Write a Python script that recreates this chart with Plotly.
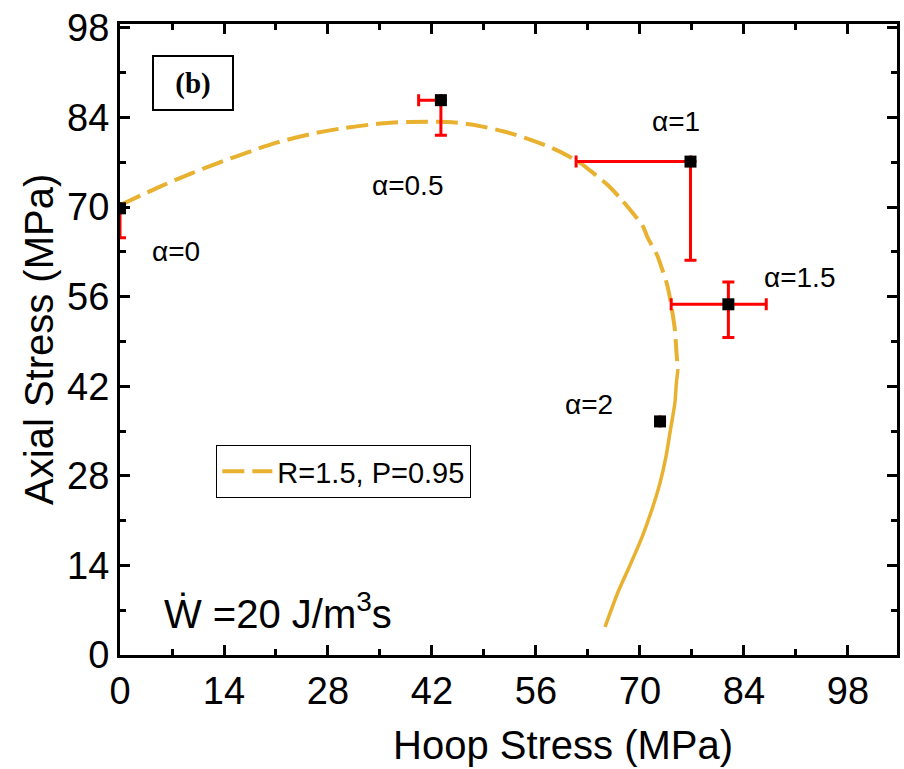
import plotly.graph_objects as go

# ---- data ----
curve_dash_x = [0, 5.4, 9.7, 13.0, 17.8, 21.2, 26.5, 29.9, 35.5, 38.9, 44.0, 47.3, 51.7, 55.0,
                58.2, 61.7, 63.4, 65.7, 67.4, 69.0, 70.4, 71.0, 72.3, 72.8, 73.6, 74.1, 74.7, 74.9, 75.1]
curve_dash_y = [70.3, 73.2, 75.3, 76.8, 78.8, 80.1, 81.6, 82.3, 83.1, 83.3, 83.3, 82.9, 81.8, 80.6,
                79.2, 77.1, 75.6, 73.4, 71.3, 69.1, 67.0, 65.3, 62.5, 60.9, 58.1, 55.4, 50.8, 47.5, 44.5]
curve_solid_x = [75.1, 74.9, 74.7, 74.1, 73.5, 72.7, 71.6, 70.3, 68.8, 67.1, 65.3]
curve_solid_y = [44.5, 42.5, 39.4, 35.2, 31.0, 26.9, 22.7, 18.5, 14.4, 10.0, 4.4]

hoop = [0, 43.2, 76.8, 81.9, 72.7]
axial = [69.8, 86.7, 77.1, 54.8, 36.5]
x_err_minus = [0, 3.0, 15.4, 7.7, 0]
x_err_plus = [0, 0, 0, 5.1, 0]
y_err_minus = [4.6, 5.5, 15.4, 5.2, 0]
y_err_plus = [0, 0, 0, 3.5, 0]

alpha_labels = ["α=0", "α=0.5", "α=1", "α=1.5", "α=2"]
alpha_lx = [7.6, 38.7, 74.8, 91.5, 63.1]
alpha_ly = [63.0, 73.3, 83.4, 59.0, 39.2]

tick_vals = [0, 14, 28, 42, 56, 70, 84, 98]

GOLD = "#E8B130"
SANS = "Liberation Sans, Arial, sans-serif"

fig = go.Figure()

# thin red line under solid part
fig.add_trace(go.Scatter(x=curve_solid_x, y=curve_solid_y, mode="lines",
                         line=dict(color="red", width=1.2, shape="spline", smoothing=0.8),
                         showlegend=False, hoverinfo="skip"))
fig.add_trace(go.Scatter(x=curve_solid_x, y=curve_solid_y, mode="lines",
                         line=dict(color=GOLD, width=3.5, shape="spline", smoothing=0.8),
                         showlegend=False, hoverinfo="skip"))
fig.add_trace(go.Scatter(x=curve_dash_x, y=curve_dash_y, mode="lines", name="R=1.5, P=0.95",
                         line=dict(color=GOLD, width=4, dash="22px,8px", shape="spline", smoothing=0.8)))

fig.add_trace(go.Scatter(
    x=hoop, y=axial, mode="markers", showlegend=False,
    marker=dict(symbol="square", size=12, color="black"),
    error_x=dict(type="data", symmetric=False, array=x_err_plus, arrayminus=x_err_minus,
                 color="red", thickness=3, width=6),
    error_y=dict(type="data", symmetric=False, array=y_err_plus, arrayminus=y_err_minus,
                 color="red", thickness=3, width=6),
))

annotations = []
for t, ax_, ay_ in zip(alpha_labels, alpha_lx, alpha_ly):
    annotations.append(dict(x=ax_, y=ay_, xref="x", yref="y", showarrow=False,
                            xanchor="center", yanchor="middle",
                            text=t, font=dict(family=SANS, size=28, color="black")))

annotations.append(dict(x=9.8, y=89.4, xref="x", yref="y", showarrow=False,
                        xanchor="center", yanchor="middle",
                        text="<b>(b)</b>", width=78, height=52, borderpad=0,
                        bordercolor="black", borderwidth=2,
                        font=dict(family="Liberation Serif, Times New Roman, serif", size=29, color="black")))

annotations.append(dict(x=5.6, y=6.9, xref="x", yref="y", xanchor="left", yanchor="middle",
                        showarrow=False,
                        text="Ẇ =20 J/m<sup>3</sup>s",
                        font=dict(family=SANS, size=40, color="black")))

annotations.append(dict(x=0.5705, y=-0.142, xref="paper", yref="paper", showarrow=False,
                        xanchor="center", yanchor="middle",
                        text="Hoop Stress (MPa)", font=dict(family=SANS, size=40, color="black")))
annotations.append(dict(x=-0.105, y=0.5, xref="paper", yref="paper", showarrow=False,
                        xanchor="center", yanchor="middle",
                        textangle=-90, text="Axial Stress (MPa)",
                        font=dict(family=SANS, size=40, color="black")))

axis_common = dict(
    showgrid=False, zeroline=False, showline=True, linecolor="black", linewidth=3,
    mirror="allticks", ticks="inside", ticklen=10, tickwidth=3, tickcolor="black",
    tickvals=tick_vals, ticktext=[str(v) for v in tick_vals],
    tickfont=dict(family=SANS, size=38, color="black"),
    minor=dict(ticks="inside", ticklen=6, tickwidth=3, tickcolor="black", dtick=7, tick0=0),
)

fig.update_layout(
    width=904, height=769,
    margin=dict(l=120, r=4, t=24, b=114),
    plot_bgcolor="white", paper_bgcolor="white",
    xaxis=dict(range=[0, 104.6], **axis_common),
    yaxis=dict(range=[0, 98.6], **axis_common),
    showlegend=True,
    legend=dict(x=0.124, y=0.333, xanchor="left", yanchor="top",
                bgcolor="white", bordercolor="black", borderwidth=1,
                font=dict(family=SANS, size=29, color="black"),
                itemwidth=50, tracegroupgap=0),
    annotations=annotations,
)

fig.write_html("out.html")
